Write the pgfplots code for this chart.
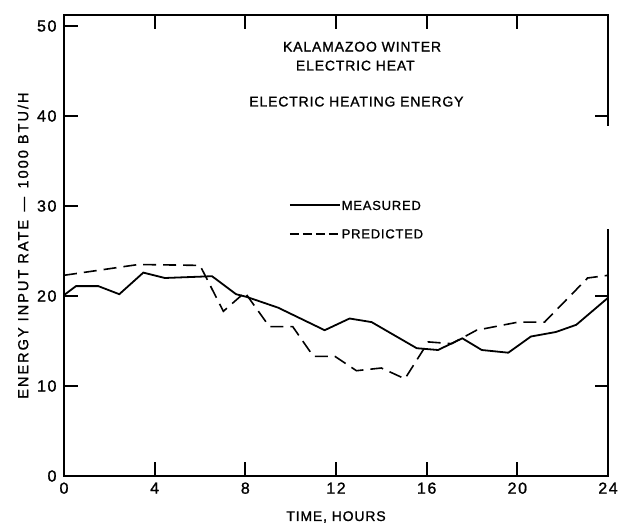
\documentclass[border=0pt]{standalone}
\usepackage{pgfplots}
\pgfplotsset{compat=1.18}
\usepackage{fontspec}
\setmainfont{Liberation Sans}[LetterSpace=6, FakeBold=1.2]
\newfontfamily\ticks{Liberation Sans}[LetterSpace=10, FakeBold=1.2]
\newfontfamily\ylab{Liberation Sans}[LetterSpace=14, FakeBold=1.2]

% measured electric heating energy, 1000 BTU/H
\pgfplotstableread{
t     q
0     20.1
0.53  21.1
1.51  21.1
2.44  20.2
3.50  22.6
4.45  22.0
6.53  22.2
7.59  20.2
8.06  19.9
9.45  18.7
11.50 16.2
12.60 17.5
13.57 17.1
15.56 14.2
16.50 14.0
17.57 15.3
18.43 14.0
19.60 13.7
20.60 15.5
21.70 16.0
22.60 16.8
24.00 19.8
}\measured

\pgfplotstableread{
t     q
0     22.3
3.28  23.5
6.00  23.4
7.03  18.3
7.98  20.4
9.06  16.6
10.09 16.6
11.00 13.3
11.95 13.3
12.90 11.7
14.00 12.0
15.04 10.8
16.07 14.9
17.10 14.7
18.20 16.2
20.04 17.1
21.20 17.1
23.10 22.0
24.00 22.3
}\predicted

\begin{document}
\begin{tikzpicture}
\useasboundingbox (0,0) rectangle (628pt,525pt);
\begin{axis}[
  at={(64pt,49pt)}, anchor=south west,
  scale only axis,
  width=544pt, height=460.8pt,
  xmin=0, xmax=24, ymin=0, ymax=51.2,
  xtick={0,4,...,24},
  ytick={0,10,...,50},
  major tick length=0pt,
  axis line style={line width=1.8pt, draw=black},
  /pgf/number format/assume math mode=true,
  tick label style={font=\ticks\fontsize{16}{18}\selectfont},
  xticklabel style={yshift=-3pt},
  yticklabel style={xshift=-4pt},
  xlabel={TIME, HOURS},
  ylabel={ENERGY INPUT RATE \,—\, 1000 BTU/H},
  label style={font=\fontsize{14}{16}\selectfont},
  xlabel style={at={(axis description cs:0.5,0)}, anchor=center, yshift=-41pt},
  ylabel style={font=\ylab\fontsize{14.5}{16}\selectfont, at={(axis description cs:0,0.5)}, anchor=center, yshift=41pt},
  clip=false,
]
\addplot[black, line width=1.8pt] table[x=t, y=q] {\measured};
\addplot[black, line width=1.6pt, dash pattern=on 13pt off 7pt] table[x=t, y=q] {\predicted};

% tick marks as small filled bars (0.62 h = 14 px; 1.56 units = 14 px)
\fill[black] (axis cs:0,9.88) rectangle (axis cs:0.62,10.12);
\fill[black] (axis cs:0,19.88) rectangle (axis cs:0.62,20.12);
\fill[black] (axis cs:0,29.88) rectangle (axis cs:0.62,30.12);
\fill[black] (axis cs:0,39.88) rectangle (axis cs:0.62,40.12);
\fill[black] (axis cs:0,49.88) rectangle (axis cs:0.62,50.12);
\fill[black] (axis cs:3.955,0) rectangle (axis cs:4.045,1.56);
\fill[black] (axis cs:7.955,0) rectangle (axis cs:8.045,1.56);
\fill[black] (axis cs:11.955,0) rectangle (axis cs:12.045,1.56);
\fill[black] (axis cs:15.955,0) rectangle (axis cs:16.045,1.56);
\fill[black] (axis cs:19.955,0) rectangle (axis cs:20.045,1.56);
\fill[black] (axis cs:3.955,51.2) rectangle (axis cs:4.045,49.64);
\fill[black] (axis cs:7.955,51.2) rectangle (axis cs:8.045,49.64);
\fill[black] (axis cs:11.955,51.2) rectangle (axis cs:12.045,49.64);
\fill[black] (axis cs:15.955,51.2) rectangle (axis cs:16.045,49.64);
\fill[black] (axis cs:19.955,51.2) rectangle (axis cs:20.045,49.64);
% right axis: the break in its line, and its three ticks
\draw[white, line width=4pt] (axis cs:24,27.4) -- (axis cs:24,38.9);
\fill[black] (axis cs:24,9.88) rectangle (axis cs:23.42,10.12);
\fill[black] (axis cs:24,19.88) rectangle (axis cs:23.42,20.12);
\fill[black] (axis cs:24,39.88) rectangle (axis cs:23.42,40.12);

\node[font=\fontsize{14}{16}\selectfont] at (axis cs:13.15,47.7) {KALAMAZOO WINTER};
\node[font=\fontsize{14}{16}\selectfont] at (axis cs:12.85,45.6) {ELECTRIC HEAT};
\node[font=\fontsize{14}{16}\selectfont] at (axis cs:12.9,41.6) {ELECTRIC HEATING ENERGY};

\draw[black, line width=2pt] (axis cs:9.97,30.06) -- (axis cs:12.17,30.06);
\node[anchor=west, inner sep=1pt, font=\fontsize{13}{15}\selectfont] at (axis cs:12.2,30.06) {MEASURED};
\draw[black, line width=1.6pt, dash pattern=on 9pt off 4pt] (axis cs:9.97,26.9) -- (axis cs:12.1,26.9);
\node[anchor=west, inner sep=1pt, font=\fontsize{13}{15}\selectfont] at (axis cs:12.2,26.9) {PREDICTED};
\end{axis}
\end{tikzpicture}
\end{document}
